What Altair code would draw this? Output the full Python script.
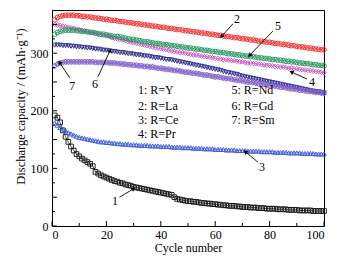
import altair as alt
import pandas as pd

cycles = list(range(1, 101))

cap_Y = [192, 188, 180, 166, 155, 146, 138, 131, 125, 121,
         117, 114, 111, 108, 104, 94, 91, 88, 86, 84,
         82, 80, 78, 77, 75, 74, 72, 71, 70, 68,
         67, 66, 65, 64, 63, 62, 61, 60, 59, 58,
         57, 56, 55, 54, 50, 47, 46, 45, 44, 43,
         43, 42, 42, 41, 40, 40, 39, 39, 38, 38,
         37, 37, 36, 36, 35, 35, 35, 34, 34, 33,
         33, 33, 32, 32, 32, 31, 31, 31, 30, 30,
         30, 30, 29, 29, 29, 29, 28, 28, 28, 28,
         27, 27, 27, 27, 27, 26, 26, 26, 26, 26]

cap_La = [358, 362, 364, 365, 366, 366, 366, 366, 365, 365,
          364, 364, 363, 363, 362, 361, 361, 360, 359, 359,
          358, 357, 357, 356, 355, 355, 354, 353, 353, 352,
          351, 351, 350, 349, 349, 348, 347, 347, 346, 345,
          345, 344, 343, 343, 342, 341, 341, 340, 339, 339,
          338, 337, 337, 336, 335, 335, 334, 333, 333, 332,
          331, 331, 330, 329, 329, 328, 327, 327, 326, 325,
          325, 324, 323, 323, 322, 321, 321, 320, 319, 319,
          318, 317, 317, 316, 315, 315, 314, 313, 313, 312,
          311, 311, 310, 309, 309, 308, 307, 307, 306, 306]

cap_Ce = [179, 175, 171, 168, 165, 162, 160, 158, 156, 154,
          153, 152, 151, 150, 149, 148, 147, 146, 146, 145,
          145, 144, 144, 143, 143, 142, 142, 142, 141, 141,
          141, 140, 140, 140, 140, 139, 139, 139, 139, 138,
          138, 138, 138, 137, 137, 137, 137, 136, 136, 136,
          136, 135, 135, 135, 135, 134, 134, 134, 134, 133,
          133, 133, 133, 132, 132, 132, 132, 131, 131, 131,
          131, 130, 130, 130, 130, 130, 129, 129, 129, 129,
          129, 128, 128, 128, 128, 128, 127, 127, 127, 127,
          127, 126, 126, 126, 126, 126, 125, 125, 125, 125]

cap_Pr = [350, 349, 348, 347, 346, 345, 344, 343, 342, 341,
          340, 339, 338, 337, 336, 334, 333, 332, 331, 330,
          329, 327, 326, 325, 324, 323, 322, 320, 319, 318,
          317, 316, 315, 314, 313, 312, 311, 310, 309, 308,
          307, 306, 305, 304, 303, 302, 301, 301, 300, 299,
          298, 297, 297, 296, 295, 294, 294, 293, 292, 291,
          291, 290, 289, 289, 288, 287, 287, 286, 285, 285,
          284, 283, 283, 282, 282, 281, 280, 280, 279, 279,
          278, 277, 277, 276, 276, 275, 274, 274, 273, 273,
          272, 271, 271, 270, 270, 269, 268, 268, 267, 266]

cap_Nd = [333, 336, 338, 339, 340, 340, 340, 340, 339, 339,
          338, 338, 337, 336, 336, 335, 334, 333, 333, 332,
          331, 330, 329, 329, 328, 327, 326, 325, 324, 324,
          323, 322, 321, 320, 320, 319, 318, 317, 317, 316,
          315, 315, 314, 313, 313, 312, 311, 311, 310, 309,
          309, 308, 307, 307, 306, 305, 305, 304, 303, 303,
          302, 301, 301, 300, 299, 299, 298, 297, 297, 296,
          295, 295, 294, 294, 293, 292, 292, 291, 291, 290,
          289, 289, 288, 288, 287, 286, 286, 285, 285, 284,
          283, 283, 282, 282, 281, 280, 280, 279, 279, 278]

cap_Gd = [314, 314, 314, 313, 313, 313, 312, 312, 311, 311,
          310, 310, 309, 309, 308, 307, 307, 306, 305, 305,
          304, 303, 303, 302, 301, 301, 300, 299, 299, 298,
          297, 297, 296, 295, 295, 294, 293, 292, 292, 291,
          290, 289, 289, 288, 287, 286, 285, 284, 283, 282,
          281, 280, 279, 278, 277, 276, 275, 274, 273, 272,
          271, 270, 268, 267, 266, 265, 264, 263, 261, 260,
          259, 258, 257, 256, 255, 254, 253, 252, 251, 250,
          249, 248, 247, 246, 245, 244, 243, 242, 241, 240,
          239, 238, 237, 236, 235, 234, 233, 233, 232, 231]

cap_Sm = [278, 281, 283, 284, 285, 285, 285, 285, 285, 285,
          285, 285, 285, 285, 285, 284, 284, 284, 284, 284,
          283, 283, 283, 282, 282, 281, 281, 280, 280, 279,
          279, 278, 278, 277, 277, 276, 276, 275, 274, 274,
          273, 272, 272, 271, 270, 270, 269, 268, 267, 267,
          266, 265, 265, 264, 263, 262, 262, 261, 260, 259,
          259, 258, 257, 256, 256, 255, 254, 253, 253, 252,
          251, 250, 250, 249, 248, 247, 247, 246, 245, 244,
          244, 243, 242, 241, 241, 240, 239, 238, 238, 237,
          236, 236, 235, 234, 234, 233, 232, 232, 231, 230]

series_names = ["Y", "La", "Ce", "Pr", "Nd", "Gd", "Sm"]
series_values = [cap_Y, cap_La, cap_Ce, cap_Pr, cap_Nd, cap_Gd, cap_Sm]
series_colors = ["#111111", "#ee2a2a", "#3a5ad0", "#c455c4", "#23915a", "#2c2c8c", "#8060c8"]
series_shapes = ["square", "circle", "triangle-up", "diamond", "circle", "triangle-down", "cross"]

legend_lines = ["1: R=Y", "2: R=La", "3: R=Ce", "4: R=Pr", "5: R=Nd", "6: R=Gd", "7: R=Sm"]
legend_x = [31.6, 31.6, 31.6, 31.6, 66.0, 66.0, 66.0]
legend_y = [236, 208, 184, 160, 236, 208, 184]

# number labels with arrows: label position, arrow start, arrow end (data coords)
arrow_labels = ["1", "2", "5", "4", "3", "6", "7"]
label_x = [23.2, 68.0, 83.1, 95.6, 77.2, 15.8, 7.4]
label_y = [43, 359, 347, 250, 102, 247, 243]
arr_x0 = [24.8, 66.5, 81.3, 93.8, 75.7, 16.9, 6.6]
arr_y0 = [50, 351, 339, 255, 111, 259, 257]
arr_x1 = [29.8, 62.5, 72.8, 88.2, 71.3, 21.3, 2.9]
arr_y1 = [64, 330, 297, 267, 128, 304, 283]
arr_angle = [60, 222, 224, 295, 310, 25, 326]

x_major = [0, 20, 40, 60, 80, 100]
x_minor = [10, 30, 50, 70, 90]
y_major = [0, 50, 100, 150, 200, 250, 300, 350]
y_minor = [25, 75, 125, 175, 225, 275, 325]

FONT = "Liberation Serif"
W, H = 272, 216

rows = []
for name, vals in zip(series_names, series_values):
    for c, v in zip(cycles, vals):
        rows.append({"cycle": c, "cap": v, "series": name})
df = pd.DataFrame(rows)

xs = alt.Scale(domain=[0, 100], nice=False)
ys = alt.Scale(domain=[0, 375], nice=False)
col = alt.Color("series:N", scale=alt.Scale(domain=series_names, range=series_colors), legend=None)
shp = alt.Shape("series:N", scale=alt.Scale(domain=series_names, range=series_shapes), legend=None)

x_enc = alt.X("cycle:Q", scale=xs,
              axis=alt.Axis(values=x_major, title="Cycle number", ticks=False, grid=False,
                            labelPadding=3, titlePadding=2, format="d"))
y_enc = alt.Y("cap:Q", scale=ys,
              axis=alt.Axis(values=y_major, title="Discharge capacity / (mAh·g⁻¹)", ticks=False,
                            grid=False, labelPadding=4, format="d",
                            titleX=-32, titleY=96, titleBaseline="middle", titleAngle=270,
                            titleFontSize=12.5))

lines = alt.Chart(df).mark_line(strokeWidth=0.7).encode(x=x_enc, y=y_enc, color=col, detail="series:N")
points = alt.Chart(df).mark_point(filled=False, size=22, strokeWidth=0.9, opacity=1).encode(
    x="cycle:Q", y="cap:Q", color=col, shape=shp)

xt_major = alt.Chart(pd.DataFrame({"v": x_major})).mark_rule(color="black", strokeWidth=1).encode(
    x=alt.X("v:Q", scale=xs), y=alt.value(H), y2=alt.value(H - 5))
xt_minor = alt.Chart(pd.DataFrame({"v": x_minor})).mark_rule(color="black", strokeWidth=1).encode(
    x=alt.X("v:Q", scale=xs), y=alt.value(H), y2=alt.value(H - 3))
yt_major = alt.Chart(pd.DataFrame({"v": y_major})).mark_rule(color="black", strokeWidth=1).encode(
    y=alt.Y("v:Q", scale=ys), x=alt.value(0), x2=alt.value(5))
yt_minor = alt.Chart(pd.DataFrame({"v": y_minor})).mark_rule(color="black", strokeWidth=1).encode(
    y=alt.Y("v:Q", scale=ys), x=alt.value(0), x2=alt.value(3))

leg_df = pd.DataFrame({"t": legend_lines, "x": legend_x, "y": legend_y})
legend_text = alt.Chart(leg_df).mark_text(font=FONT, fontSize=12, align="left", baseline="middle",
                                          color="black").encode(
    x=alt.X("x:Q", scale=xs), y=alt.Y("y:Q", scale=ys), text="t:N")

ann_df = pd.DataFrame({"t": arrow_labels, "lx": label_x, "ly": label_y,
                       "x0": arr_x0, "y0": arr_y0, "x1": arr_x1, "y1": arr_y1, "ang": arr_angle})
ann_text = alt.Chart(ann_df).mark_text(font=FONT, fontSize=12, align="center", baseline="middle",
                                       color="black").encode(
    x=alt.X("lx:Q", scale=xs), y=alt.Y("ly:Q", scale=ys), text="t:N")
ann_line = alt.Chart(ann_df).mark_rule(color="black", strokeWidth=0.9).encode(
    x=alt.X("x0:Q", scale=xs), y=alt.Y("y0:Q", scale=ys), x2="x1:Q", y2="y1:Q")
ann_head = alt.Chart(ann_df).mark_point(shape="triangle", filled=True, size=22, color="black",
                                        opacity=1).encode(
    x=alt.X("x1:Q", scale=xs), y=alt.Y("y1:Q", scale=ys), angle=alt.Angle("ang:Q", scale=None))

chart = alt.layer(lines, points, xt_major, xt_minor, yt_major, yt_minor,
                  legend_text, ann_line, ann_head, ann_text).properties(
    width=W, height=H,
    autosize=alt.AutoSizeParams(type="none"),
    padding={"left": 52, "top": 10, "right": 31, "bottom": 30},
    background="white",
).configure_view(stroke="black", strokeWidth=1).configure_axis(
    labelFont=FONT, labelFontSize=12, titleFont=FONT, titleFontSize=12, titleFontWeight="normal",
    labelColor="black", titleColor="black", domainColor="black", domainWidth=1,
)

chart.save("out.html", embed_options={"renderer": "svg", "actions": False})
